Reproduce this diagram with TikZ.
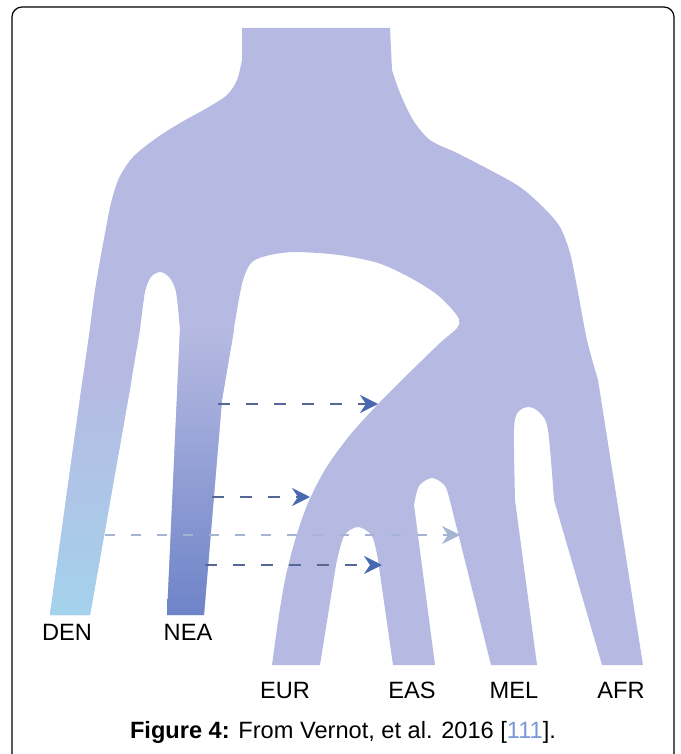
\documentclass[tikz,border=0pt]{standalone}
\usepackage{fontspec}
\setmainfont{Liberation Sans}
\definecolor{treebody}{RGB}{182,186,226}
\definecolor{denblue}{RGB}{164,210,236}
\definecolor{neablue}{RGB}{110,132,200}
\definecolor{flowgray}{RGB}{88,104,150}
\definecolor{flowtip}{RGB}{72,104,176}
\definecolor{flowlight}{RGB}{165,180,210}
\definecolor{citeblue}{RGB}{122,152,214}
\usetikzlibrary{arrows.meta}

\begin{document}
\begin{tikzpicture}[x=0.5pt,y=-0.5pt,
  pop/.style={font=\fontsize{11.8}{14}\selectfont,inner sep=0pt,anchor=base},
  flow/.style={line width=1pt,flowgray,dash pattern=on 6pt off 8pt,
    -{Stealth[length=9pt,width=9pt,inset=3pt,color=flowtip]}},
  ghostflow/.style={line width=0.8pt,flowlight,dash pattern=on 5pt off 8pt,
    -{Stealth[length=9pt,width=9pt,inset=3pt,color=flowlight]}}]
  \useasboundingbox (0,0) rectangle (680,754);

  % tree body
  \fill[treebody] (242,28) -- (390,28) -- (392,70)
    -- plot[smooth] coordinates {(392,70) (400,93) (413,120) (430,140) (457,153) (490,170)
        (520,187) (543,207) (560,227) (570,253) (577,287) (587,340) (598,380)}
    -- (643,665) -- (602,665) -- (554,500)
    -- plot[smooth] coordinates {(554,500) (548,430) (540,413) (529,407) (518,412) (514,430) (515,500)}
    -- (537,665) -- (491,665) -- (451,505)
    -- plot[smooth] coordinates {(451,505) (445,486) (432,478) (419,486) (414,505)}
    -- (435,665) -- (393,665) -- (378,560)
    -- plot[smooth] coordinates {(378,560) (372,536) (358,527) (344,536) (336,565)}
    -- (320,665) -- (272,665)
    -- plot[smooth] coordinates {(272,665) (279,615) (286,575) (296,537) (308,503) (326,468)
        (350,435) (380,402) (410,372) (440,343) (457,328) (459,319) (450,307) (435,293)
        (409,277) (378,263) (339,255) (296,252) (270,255) (252,262) (243,280) (237,310)}
    -- (222,400) -- (204,615) -- (167,615) -- (180,330)
    -- plot[smooth] coordinates {(180,330) (176,292) (169,277) (160,272) (151,277) (145,292) (140,330)}
    -- (128,400) -- (90,615) -- (50,615) -- (83,377)
    -- plot[smooth] coordinates {(83,377) (89,335) (95,290) (101,255) (106,228) (111,203)
        (119,178) (133,157) (155,139) (180,123) (207,108) (227,95) (237,80) (242,60)}
    -- cycle;

  % archaic tips
  \shade[top color=treebody,bottom color=denblue]
    (83,377) -- (132,377) -- (128,400) -- (90,615) -- (50,615) -- cycle;
  \shade[top color=treebody,middle color=neablue!92!treebody,bottom color=neablue]
    (180,330) -- (234,330) -- (222,400) -- (204,615) -- (167,615) -- cycle;

  % introgression
  \coordinate (neaA) at (218,404);
  \coordinate (eurA) at (378,404);
  \coordinate (neaB) at (212,497);
  \coordinate (eurB) at (310,497);
  \coordinate (denC) at (105,535);
  \coordinate (melC) at (460,535);
  \coordinate (neaD) at (205,565);
  \coordinate (easD) at (382,565);
  \draw[ghostflow] (denC) -- (melC);
  \draw[flow] (neaA) -- (eurA);
  \draw[flow] (neaB) -- (eurB);
  \draw[flow] (neaD) -- (easD);

  \node[pop] (den) at (67,640) {DEN};
  \node[pop] (nea) at (188,640) {NEA};
  \node[pop] (eur) at (285,698) {EUR};
  \node[pop] (eas) at (412,698) {EAS};
  \node[pop] (mel) at (514,698) {MEL};
  \node[pop] (afr) at (621,698) {AFR};
  \node[pop] (cap) at (343,738) {\textbf{Figure 4:} From Vernot, et al. 2016 [\textcolor{citeblue}{111}].};

  \draw[line width=0.6pt,rounded corners=5pt] (12,760) -- (12,7) -- (674,7) -- (674,760);
\end{tikzpicture}
\end{document}
